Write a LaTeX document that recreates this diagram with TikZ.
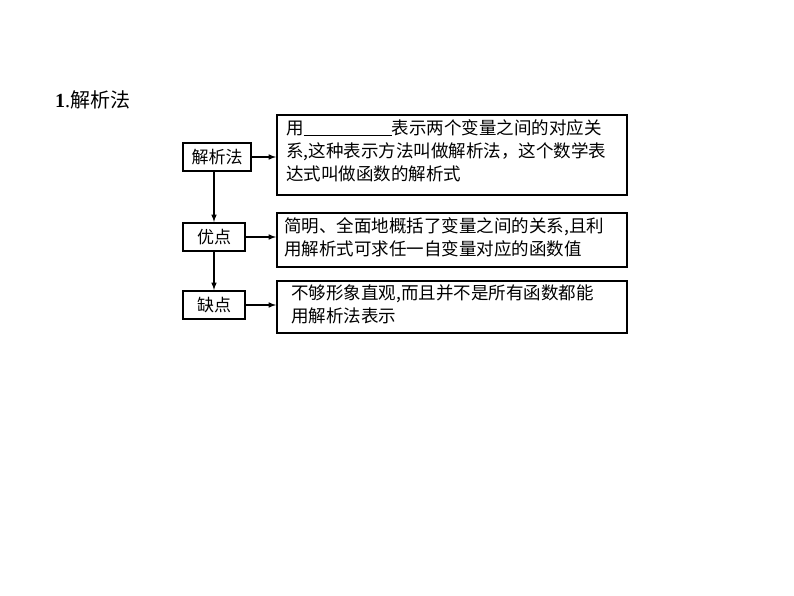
\documentclass[tikz,border=0pt]{standalone}
\usepackage{fontspec}
\setmainfont{Liberation Serif}
\newfontfamily\cjk{Noto Sans CJK SC}
\begin{document}
\begin{tikzpicture}[x=1pt,y=-1pt,
  lbox/.style={draw,line width=2.2pt,minimum height=28pt,inner sep=0pt,font=\cjk\fontsize{17}{17}\selectfont},
  rbox/.style={draw,line width=2.2pt,anchor=north west,inner sep=0pt},
  txt/.style={anchor=north west,align=left,inner sep=0pt,font=\cjk\fontsize{17.5}{23}\selectfont},
  arr/.style={-latex,line width=1.5pt}]
\useasboundingbox (0,0) rectangle (794,596);
\node[anchor=west,inner sep=0pt,font=\fontsize{20}{20}\selectfont] (title) at (55,100) {\textbf{1}.{\cjk 解析法}};
\node[lbox,minimum width=68pt] (a) at (217,157) {解析法};
\node[lbox,minimum width=62pt] (b) at (214,237) {优点};
\node[lbox,minimum width=62pt] (c) at (214,305) {缺点};
\node[rbox,minimum width=350pt,minimum height=80pt] (r1) at (276,114) {};
\node[rbox,minimum width=350pt,minimum height=54pt] (r2) at (276,212) {};
\node[rbox,minimum width=350pt,minimum height=52pt] (r3) at (276,280) {};
\node[txt] (t1) at (286,119) {用\underline{\hspace{88pt}}表示两个变量之间的对应关\\系,这种表示方法叫做解析法，这个数学表\\达式叫做函数的解析式};
\node[txt] (t2) at (284,217) {简明、全面地概括了变量之间的关系,且利\\用解析式可求任一自变量对应的函数值};
\node[txt] (t3) at (291,285) {不够形象直观,而且并不是所有函数都能\\用解析法表示};
\draw[arr] (a.east) -- (a.east -| r1.west);
\draw[arr] (b.east) -- (b.east -| r2.west);
\draw[arr] (c.east) -- (c.east -| r3.west);
\draw[arr] (a.south -| b.north) -- (b.north);
\draw[arr] (b.south) -- (c.north);
\end{tikzpicture}
\end{document}
